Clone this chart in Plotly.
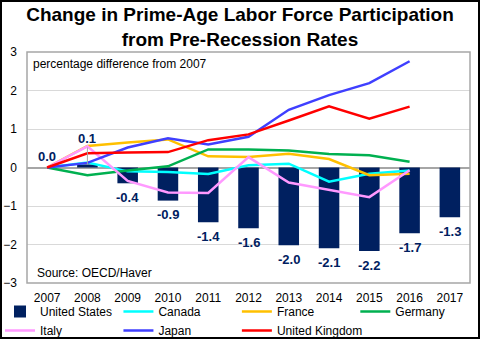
import plotly.graph_objects as go

years = ["2007", "2008", "2009", "2010", "2011", "2012", "2013", "2014", "2015", "2016", "2017"]
line_years = years[:10]

us = [0.0, 0.08, -0.41, -0.86, -1.42, -1.58, -2.02, -2.10, -2.17, -1.71, -1.29]
us_labels = ["0.0", "0.1", "-0.4", "-0.9", "-1.4", "-1.6", "-2.0", "-2.1", "-2.2", "-1.7", "-1.3"]

canada = [0.0, 0.13, -0.10, -0.12, -0.17, 0.06, 0.10, -0.37, -0.16, -0.08]
france = [0.0, 0.56, 0.65, 0.73, 0.29, 0.27, 0.36, 0.22, -0.20, -0.16]
germany = [0.0, -0.20, -0.08, 0.03, 0.47, 0.47, 0.44, 0.35, 0.32, 0.15]
italy = [0.0, 0.55, -0.35, -0.65, -0.66, 0.27, -0.39, -0.58, -0.77, -0.07]
japan = [0.0, 0.12, 0.52, 0.76, 0.60, 0.80, 1.50, 1.88, 2.19, 2.76]
uk = [0.0, 0.37, 0.39, 0.40, 0.71, 0.86, 1.22, 1.59, 1.27, 1.58]

NAVY = "#002060"
FONT = "Liberation Sans, Arial, sans-serif"

fig = go.Figure()
fig.add_trace(go.Bar(x=years, y=us, name="United States", marker_color=NAVY,
                     marker_line_width=0))
series = [
    ("Canada", canada, "#00FFFF"),
    ("France", france, "#FFC000"),
    ("Germany", germany, "#00B050"),
    ("Italy", italy, "#FF99FF"),
    ("Japan", japan, "#3F3FFF"),
    ("United Kingdom", uk, "#FF0000"),
]
for name, vals, col in series:
    fig.add_trace(go.Scatter(x=line_years, y=vals, name=name, mode="lines",
                             line=dict(color=col, width=2.5)))

annotations = []
for i, (v, lab) in enumerate(zip(us, us_labels)):
    f = dict(family=FONT, size=13, color=NAVY, weight="bold")
    if i == 0:
        annotations.append(dict(x=i, y=v, text=lab, showarrow=False, yshift=11, font=f))
    elif i == 1:
        annotations.append(dict(x=i, y=v, text=lab, showarrow=True, arrowhead=0,
                                arrowwidth=1, arrowcolor="#A6A6A6", ax=0, ay=-26, font=f))
    else:
        annotations.append(dict(x=i, y=v, text=lab, showarrow=False, yshift=-14, font=f))

annotations.append(dict(xref="paper", yref="paper", x=0.009, y=0.95, xanchor="left",
                        yanchor="middle", text="percentage difference from 2007",
                        showarrow=False, font=dict(family=FONT, size=12, color="black")))
annotations.append(dict(xref="paper", yref="paper", x=0.018, y=0.042, xanchor="left",
                        yanchor="middle", text="Source: OECD/Haver",
                        showarrow=False, font=dict(family=FONT, size=12, color="black")))

L, R, T, B = 27, 10, 52, 56
W, H = 480, 339
pw, ph = W - L - R, H - T - B

shapes = [
    dict(type="rect", xref="paper", yref="paper", x0=0, x1=1, y0=0, y1=1,
         line=dict(color="#A6A6A6", width=1.5), layer="above"),
    dict(type="rect", xref="paper", yref="paper",
         x0=(-L + 1) / pw, x1=1 + (R - 1) / pw, y0=(-B + 1) / ph, y1=1 + (T - 1) / ph,
         line=dict(color="black", width=2)),
]

fig.update_layout(
    width=W, height=H,
    margin=dict(l=L, r=R, t=T, b=B, autoexpand=False),
    paper_bgcolor="white", plot_bgcolor="white",
    font=dict(family=FONT, size=12, color="black"),
    title=dict(text="Change in Prime-Age Labor Force Participation<br>from Pre-Recession Rates",
               x=0.5, xanchor="center", y=0.938, yanchor="middle",
               font=dict(family=FONT, size=19, color="black", weight="bold")),
    bargap=0.49,
    showlegend=True,
    legend=dict(orientation="h", x=(0 - L) / pw, xref="paper", y=-(297 - (H - B)) / ph,
                yref="paper", yanchor="top", xanchor="left",
                font=dict(family=FONT, size=12, color="black"),
                entrywidthmode="fraction", entrywidth=0.252, itemwidth=30,
                tracegroupgap=0, bgcolor="rgba(0,0,0,0)"),
    annotations=annotations,
    shapes=shapes,
    xaxis=dict(type="category", range=[-0.5, 10.5], showgrid=False, zeroline=False,
               showline=False, ticks="", tickfont=dict(family=FONT, size=12, color="black"),
               ticklabelstandoff=6),
    yaxis=dict(range=[-3, 3], dtick=1, tick0=0, showgrid=True, gridcolor="#D9D9D9",
               gridwidth=1, zeroline=True, zerolinecolor="#A6A6A6", zerolinewidth=1.5,
               showline=False, ticks="", tickfont=dict(family=FONT, size=12, color="black"),
               ticklabelstandoff=9),
)

fig.write_html("out.html")
